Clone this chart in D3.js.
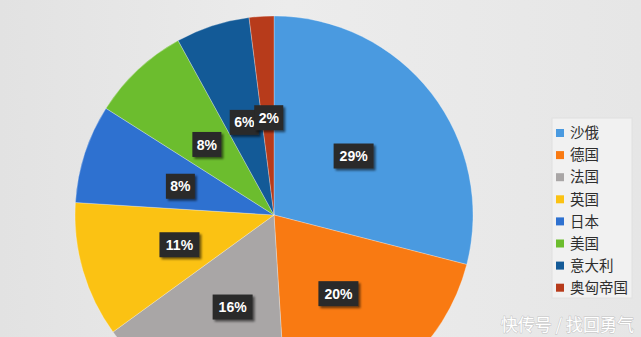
<!DOCTYPE html>
<html>
<head>
<meta charset="utf-8">
<script src="https://cdn.jsdelivr.net/npm/d3@7"></script>
<style>
  html, body { margin: 0; padding: 0; background: #e9e9e9; }
  svg { display: block; }
</style>
</head>
<body>
<div id="chart"></div>
<script>
// data
var countries = ["沙俄", "德国", "法国", "英国", "日本", "美国", "意大利", "奥匈帝国"];
var shares = [29, 20, 16, 11, 8, 8, 6, 2];
var colors = ["#4a9ae0", "#f97a12", "#a9a6a6", "#fbc213", "#2e71d0", "#6cbd2e", "#135a97", "#b73b1b"];

var W = 641, H = 337;
var cx = 274, cy = 215, r = 199;

var svg = d3.select("#chart").append("svg")
  .attr("width", W).attr("height", H);

var defs = svg.append("defs");
var bg = defs.append("linearGradient").attr("id", "bg")
  .attr("x1", 0).attr("y1", 0).attr("x2", 1).attr("y2", 0);
bg.append("stop").attr("offset", "0%").attr("stop-color", "#e2e2e2");
bg.append("stop").attr("offset", "45%").attr("stop-color", "#ececec");
bg.append("stop").attr("offset", "100%").attr("stop-color", "#e6e6e6");

var sh = defs.append("filter").attr("id", "shadow")
  .attr("x", "-30%").attr("y", "-30%").attr("width", "160%").attr("height", "170%");
sh.append("feDropShadow").attr("dx", 2).attr("dy", 2).attr("stdDeviation", 1.2)
  .attr("flood-color", "#000").attr("flood-opacity", 0.55);

svg.append("rect").attr("width", W).attr("height", H).attr("fill", "url(#bg)");

var data = countries.map(function (c, i) { return { name: c, value: shares[i], color: colors[i] }; });

var pie = d3.pie().sort(null).value(function (d) { return d.value; });
var arc = d3.arc().innerRadius(0).outerRadius(r);
var labelArc = d3.arc().innerRadius(0).outerRadius(r); // centroid sits at r/2

var g = svg.append("g").attr("transform", "translate(" + cx + "," + cy + ")");

g.selectAll("path.slice")
  .data(pie(data))
  .join("path")
  .attr("class", "slice")
  .attr("d", arc)
  .attr("fill", function (d) { return d.data.color; })
  .attr("stroke", "rgba(255,255,255,0.35)")
  .attr("stroke-width", 0.8);

// percentage labels in dark boxes
var labels = g.selectAll("g.lab")
  .data(pie(data))
  .join("g")
  .attr("class", "lab")
  .attr("transform", function (d) {
    var c = labelArc.centroid(d);
    return "translate(" + (c[0] + 1) + "," + (c[1] + 2) + ")";
  });

labels.each(function (d) {
  var el = d3.select(this);
  var t = d.data.value + "%";
  var w = t.length === 3 ? 40 : 29;
  el.append("rect")
    .attr("x", -w / 2).attr("y", -12.5)
    .attr("width", w).attr("height", 25)
    .attr("fill", "#2a2a2a")
    .attr("filter", "url(#shadow)");
  el.append("text")
    .attr("text-anchor", "middle")
    .attr("dy", "0.36em")
    .attr("fill", "#fff")
    .style("font-family", "Liberation Sans, Arial, sans-serif")
    .style("font-weight", "bold")
    .style("font-size", "14px")
    .text(t);
});

// legend
var lg = svg.append("g").attr("transform", "translate(552,118)");
lg.append("rect")
  .attr("width", 80).attr("height", 180)
  .attr("fill", "#f1f1f1")
  .attr("stroke", "#e0e0e0")
  .attr("stroke-width", 1);

var items = lg.selectAll("g.item")
  .data(data)
  .join("g")
  .attr("class", "item")
  .attr("transform", function (d, i) { return "translate(0," + (15 + i * 22.1) + ")"; });

items.append("rect")
  .attr("x", 4).attr("y", -4)
  .attr("width", 8).attr("height", 8)
  .attr("fill", function (d) { return d.color; });

items.append("text")
  .attr("x", 18).attr("dy", "0.36em")
  .attr("fill", "#2e2e2e")
  .style("font-family", "Noto Sans CJK SC, sans-serif")
  .style("font-size", "14.5px")
  .text(function (d) { return d.name; });

// watermark
svg.append("text")
  .attr("x", 634).attr("y", 331)
  .attr("text-anchor", "end")
  .attr("fill", "#fff")
  .style("font-family", "Noto Sans CJK SC, sans-serif")
  .style("font-size", "17px")
  .style("paint-order", "stroke")
  .attr("stroke", "rgba(0,0,0,0.12)")
  .attr("stroke-width", 1.5)
  .text("快传号 / 找回勇气");
</script>
</body>
</html>
